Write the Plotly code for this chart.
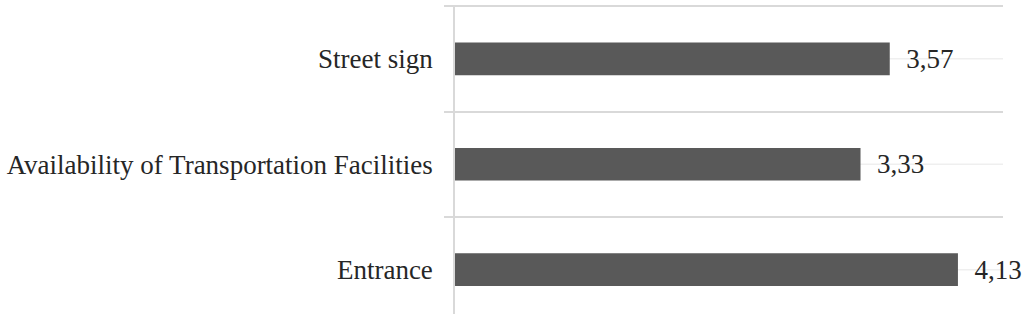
import plotly.graph_objects as go

categories = ["Entrance", "Availability of Transportation Facilities", "Street sign"]
values = [4.13, 3.33, 3.57]
value_labels = ["4,13", "3,33", "3,57"]

fig = go.Figure()
fig.add_trace(go.Bar(
    x=values, y=categories, orientation="h",
    marker=dict(color="#595959", line=dict(color="#595959", width=0)),
    text=["\u00a0\u00a0" + t for t in value_labels], textposition="outside",
    textfont=dict(family="Liberation Serif", size=27, color="#262626"),
    cliponaxis=False,
))

# light center lines through each category (behind bars)
for c in categories:
    fig.add_shape(type="line", xref="x", yref="y", x0=0, x1=4.5, y0=c, y1=c,
                  line=dict(color="#efefef", width=1.5), layer="below")

fig.update_layout(
    width=1025, height=314,
    margin=dict(l=455, r=22, t=5, b=0, autoexpand=False),
    plot_bgcolor="white", paper_bgcolor="white",
    bargap=0.69, showlegend=False,
    uniformtext=dict(mode=False),
)
fig.update_xaxes(range=[0, 4.5], showgrid=False, showticklabels=False, zeroline=False,
                 showline=False, ticks="", automargin=False)
fig.update_yaxes(type="category", categoryorder="array", categoryarray=categories,
                 range=[-0.42, 2.51], tickson="boundaries", ticks="outside", ticklen=9,
                 tickcolor="#d9d9d9", tickwidth=1.5, automargin=False,
                 showgrid=True, gridcolor="#d9d9d9", gridwidth=1.5,
                 showline=True, linecolor="#d9d9d9", linewidth=1.5,
                 tickfont=dict(family="Liberation Serif", size=27, color="#262626"),
                 ticklabelstandoff=15)

fig.write_html("out.html")
